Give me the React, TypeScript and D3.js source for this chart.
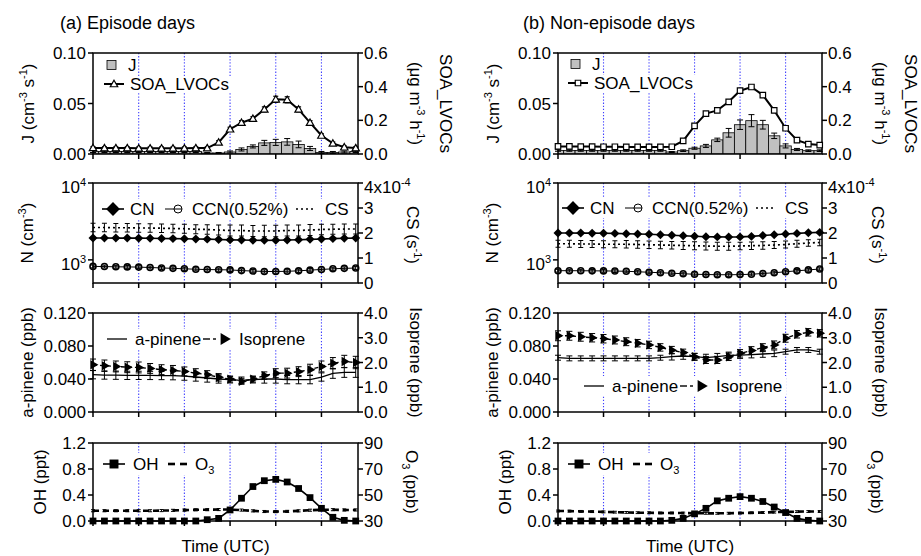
import React from "react";
import * as d3 from "d3";

const hours = [0, 1, 2, 3, 4, 5, 6, 7, 8, 9, 10, 11, 12, 13, 14, 15, 16, 17, 18, 19, 20, 21, 22, 23];
const gridHours = [4, 8, 12, 16, 20];
const axisHours = [0, 4, 8, 12, 16, 20];

// (a) episode days
const jEp = [0.0025, 0.0025, 0.0025, 0.0025, 0.0025, 0.0025, 0.0025, 0.0025, 0.0025, 0.0025, 0.001, 0.001, 0.002, 0.0045, 0.0075, 0.011, 0.0115, 0.012, 0.0095, 0.0055, 0.0015, 0.0015, 0.002, 0.0025];
const jEpErr = [0.001, 0.001, 0.001, 0.001, 0.001, 0.001, 0.001, 0.001, 0.001, 0.001, 0.0005, 0.0005, 0.001, 0.0015, 0.0015, 0.0025, 0.003, 0.0033, 0.0033, 0.002, 0.001, 0.001, 0.001, 0.001];
const soaEp = [0.036, 0.035, 0.035, 0.035, 0.034, 0.034, 0.034, 0.034, 0.034, 0.035, 0.035, 0.069, 0.147, 0.186, 0.21, 0.265, 0.325, 0.322, 0.265, 0.186, 0.11, 0.063, 0.04, 0.035];
const soaEpErr = [0.008, 0.008, 0.008, 0.008, 0.008, 0.008, 0.008, 0.008, 0.008, 0.008, 0.008, 0.01, 0.012, 0.012, 0.012, 0.015, 0.018, 0.018, 0.015, 0.012, 0.01, 0.008, 0.008, 0.008];
const cnEp = [1925, 1925, 1920, 1920, 1915, 1910, 1900, 1890, 1880, 1870, 1860, 1840, 1820, 1810, 1800, 1795, 1800, 1810, 1830, 1850, 1870, 1890, 1910, 1920];
const cnEpErr = [60, 60, 60, 60, 60, 60, 60, 60, 60, 60, 60, 60, 60, 60, 60, 60, 60, 60, 60, 60, 60, 60, 60, 60];
const ccnEp = [822, 818, 812, 810, 805, 795, 785, 775, 765, 755, 748, 744, 740, 725, 715, 707, 705, 710, 720, 735, 750, 765, 775, 783];
const ccnEpErr = [35, 35, 35, 35, 35, 35, 35, 35, 35, 35, 35, 35, 35, 35, 35, 35, 35, 35, 35, 35, 35, 35, 35, 35];
const csEp = [2.22, 2.22, 2.21, 2.21, 2.2, 2.2, 2.19, 2.18, 2.17, 2.15, 2.14, 2.12, 2.1, 2.1, 2.08, 2.08, 2.08, 2.1, 2.1, 2.12, 2.14, 2.15, 2.16, 2.16];
const csEpErr = [0.17, 0.17, 0.17, 0.17, 0.17, 0.17, 0.17, 0.17, 0.18, 0.18, 0.19, 0.2, 0.22, 0.22, 0.22, 0.23, 0.23, 0.22, 0.22, 0.22, 0.21, 0.2, 0.2, 0.2];
const apinEp = [0.0452, 0.0448, 0.0446, 0.0444, 0.0444, 0.0443, 0.0442, 0.044, 0.0435, 0.0424, 0.0412, 0.04, 0.0392, 0.0384, 0.0392, 0.04, 0.04, 0.0392, 0.0392, 0.0392, 0.0424, 0.0468, 0.048, 0.048];
const apinEpErr = [0.005, 0.005, 0.005, 0.005, 0.005, 0.005, 0.005, 0.005, 0.005, 0.005, 0.005, 0.005, 0.004, 0.004, 0.004, 0.005, 0.005, 0.005, 0.005, 0.005, 0.005, 0.006, 0.006, 0.006];
const isoEp = [1.91, 1.87, 1.84, 1.81, 1.8, 1.76, 1.71, 1.68, 1.64, 1.57, 1.51, 1.4, 1.33, 1.24, 1.33, 1.47, 1.57, 1.57, 1.63, 1.71, 1.84, 1.97, 2.04, 2.0];
const isoEpErr = [0.23, 0.23, 0.22, 0.22, 0.22, 0.2, 0.2, 0.2, 0.18, 0.18, 0.16, 0.15, 0.12, 0.12, 0.12, 0.15, 0.18, 0.2, 0.2, 0.22, 0.22, 0.23, 0.25, 0.25];
const ohEp = [0, 0, 0, 0, 0, 0, 0, 0, 0, 0, 0.02, 0.04, 0.17, 0.35, 0.53, 0.62, 0.64, 0.6, 0.5, 0.36, 0.195, 0.057, 0.01, 0];
const ohEpErr = [0.01, 0.01, 0.01, 0.01, 0.01, 0.01, 0.01, 0.01, 0.01, 0.01, 0.01, 0.01, 0.02, 0.02, 0.02, 0.02, 0.02, 0.02, 0.02, 0.02, 0.02, 0.01, 0.01, 0.01];
const o3Ep = [37.9, 37.9, 37.9, 37.9, 37.9, 37.9, 38, 38.2, 38.4, 38.6, 38.7, 38.8, 38.8, 38.4, 37.8, 37.3, 37.2, 37.4, 37.8, 38.3, 38.6, 38.7, 38.5, 38.5];
const o3EpErr = [0.8, 0.8, 0.8, 0.8, 0.8, 0.8, 0.8, 0.8, 0.8, 0.8, 0.8, 0.8, 0.8, 0.8, 0.8, 0.8, 0.8, 0.8, 0.8, 0.8, 0.8, 0.8, 0.8, 0.8];

// (b) non-episode days
const jNon = [0.0035, 0.0035, 0.0035, 0.0035, 0.0035, 0.0035, 0.0035, 0.0035, 0.0035, 0.0035, 0.002, 0.0033, 0.0057, 0.008, 0.014, 0.021, 0.029, 0.033, 0.029, 0.018, 0.008, 0.0045, 0.0033, 0.0033];
const jNonErr = [0.0008, 0.0008, 0.0008, 0.0008, 0.0008, 0.0008, 0.0008, 0.0008, 0.0008, 0.0008, 0.0005, 0.0008, 0.001, 0.0015, 0.0017, 0.0043, 0.0047, 0.006, 0.0043, 0.0027, 0.002, 0.001, 0.0008, 0.0008];
const soaNon = [0.045, 0.045, 0.044, 0.044, 0.043, 0.043, 0.042, 0.042, 0.042, 0.042, 0.043, 0.078, 0.167, 0.24, 0.259, 0.31, 0.376, 0.398, 0.35, 0.259, 0.153, 0.082, 0.059, 0.053];
const soaNonErr = [0.006, 0.006, 0.006, 0.006, 0.006, 0.006, 0.006, 0.006, 0.006, 0.006, 0.006, 0.007, 0.008, 0.008, 0.008, 0.009, 0.01, 0.01, 0.009, 0.008, 0.008, 0.007, 0.006, 0.006];
const cnNon = [2236, 2236, 2230, 2225, 2220, 2210, 2190, 2170, 2150, 2120, 2090, 2060, 2030, 2000, 1990, 1983, 1990, 2020, 2070, 2120, 2170, 2210, 2250, 2277];
const cnNonErr = [60, 60, 60, 60, 60, 60, 60, 60, 60, 60, 60, 60, 60, 60, 60, 60, 60, 60, 60, 60, 60, 60, 60, 60];
const ccnNon = [723, 723, 722, 720, 718, 715, 710, 700, 690, 680, 670, 660, 650, 645, 641, 640, 643, 650, 665, 680, 700, 720, 740, 760];
const ccnNonErr = [30, 30, 30, 30, 30, 30, 30, 30, 30, 30, 30, 30, 30, 30, 30, 30, 30, 30, 30, 30, 30, 30, 30, 30];
const csNon = [1.57, 1.57, 1.56, 1.56, 1.55, 1.55, 1.55, 1.54, 1.53, 1.52, 1.51, 1.5, 1.49, 1.48, 1.47, 1.47, 1.48, 1.49, 1.5, 1.52, 1.54, 1.57, 1.6, 1.62];
const csNonErr = [0.14, 0.14, 0.14, 0.14, 0.14, 0.14, 0.15, 0.15, 0.15, 0.15, 0.15, 0.16, 0.16, 0.16, 0.16, 0.16, 0.15, 0.15, 0.15, 0.14, 0.14, 0.14, 0.13, 0.13];
const apinNon = [0.0658, 0.065, 0.065, 0.065, 0.065, 0.065, 0.065, 0.065, 0.065, 0.0658, 0.067, 0.0679, 0.067, 0.066, 0.067, 0.0686, 0.069, 0.0696, 0.0703, 0.0711, 0.0731, 0.0752, 0.0752, 0.0731];
const apinNonErr = [0.003, 0.003, 0.003, 0.003, 0.003, 0.003, 0.003, 0.003, 0.003, 0.003, 0.004, 0.004, 0.004, 0.004, 0.004, 0.004, 0.004, 0.004, 0.004, 0.004, 0.003, 0.003, 0.003, 0.003];
const isoNon = [3.08, 3.08, 3.04, 3.0, 2.96, 2.91, 2.84, 2.78, 2.71, 2.61, 2.5, 2.4, 2.23, 2.1, 2.1, 2.23, 2.37, 2.48, 2.6, 2.71, 2.98, 3.14, 3.22, 3.18];
const isoNonErr = [0.2, 0.18, 0.18, 0.17, 0.17, 0.16, 0.16, 0.15, 0.15, 0.15, 0.15, 0.14, 0.14, 0.14, 0.14, 0.15, 0.15, 0.16, 0.16, 0.16, 0.16, 0.15, 0.15, 0.15];
const ohNon = [0, 0, 0, 0, 0, 0, 0, 0, 0, 0, 0.01, 0.04, 0.11, 0.195, 0.31, 0.35, 0.375, 0.35, 0.3, 0.215, 0.13, 0.04, 0.01, 0];
const ohNonErr = [0.01, 0.01, 0.01, 0.01, 0.01, 0.01, 0.01, 0.01, 0.01, 0.01, 0.01, 0.01, 0.015, 0.015, 0.015, 0.015, 0.015, 0.015, 0.015, 0.015, 0.015, 0.01, 0.01, 0.01];
const o3Non = [37.7, 37.6, 37.4, 37.2, 37, 36.8, 36.6, 36.4, 36.3, 36.2, 36.2, 36.1, 36, 35.9, 35.9, 36, 36.1, 36.3, 36.5, 36.8, 37, 37.2, 37.3, 37.3];
const o3NonErr = [0.7, 0.7, 0.7, 0.7, 0.7, 0.7, 0.7, 0.7, 0.7, 0.7, 0.7, 0.7, 0.7, 0.7, 0.7, 0.7, 0.7, 0.7, 0.7, 0.7, 0.7, 0.7, 0.7, 0.7];

// axis ticks
const jTicks = [0, 0.05, 0.1];
const soaTicks = [0, 0.2, 0.4, 0.6];
const nTicks = [1000, 10000];
const csTicks = [0, 1, 2, 3, 4];
const apinTicks = [0, 0.04, 0.08, 0.12];
const isoTicks = [0, 1, 2, 3, 4];
const ohTicks = [0, 0.4, 0.8, 1.2];
const o3Ticks = [30, 50, 70, 90];

const FONT = "'Liberation Sans', Arial, Helvetica, sans-serif";
const GRID = "#3f3fff";
const rows = [
  { top: 53, bottom: 154 },
  { top: 183, bottom: 283 },
  { top: 313, bottom: 412 },
  { top: 443, bottom: 521 },
];

type Tick = { v: number; label: React.ReactNode; dy?: number };

const sup = (t: string) => <tspan dy={-7} fontSize={11}>{t}</tspan>;
const base = (t: string) => <tspan dy={7}>{t}</tspan>;

function ErrBars({ xs, vals, errs, y, cap = 2.5, w = 1 }: any) {
  return (
    <g stroke="#000" strokeWidth={w}>
      {vals.map((v: number, i: number) => {
        const y0 = y(v - errs[i]);
        const y1 = y(v + errs[i]);
        const x = xs[i];
        return (
          <g key={i}>
            <line x1={x} x2={x} y1={y0} y2={y1} />
            <line x1={x - cap} x2={x + cap} y1={y0} y2={y0} />
            <line x1={x - cap} x2={x + cap} y1={y1} y2={y1} />
          </g>
        );
      })}
    </g>
  );
}

function Grid({ x, top, bottom }: any) {
  return (
    <g>
      {gridHours.map((h) => (
        <line key={h} x1={x(h)} x2={x(h)} y1={top} y2={bottom} stroke={GRID} strokeWidth={1.1} strokeDasharray="1.3 1.8" />
      ))}
    </g>
  );
}

function Axes({ x, left, right, top, bottom, yl, yr, lt, rt }: any) {
  return (
    <g>
      <rect x={left} y={top} width={right - left} height={bottom - top} fill="none" stroke="#000" strokeWidth={1.5} />
      {axisHours.map((h) => (
        <line key={"b" + h} x1={x(h)} x2={x(h)} y1={bottom} y2={bottom + 5} stroke="#000" strokeWidth={1.5} />
      ))}
      {lt.map((t: Tick, i: number) => (
        <g key={"l" + i}>
          <line x1={left - 5} x2={left} y1={yl(t.v)} y2={yl(t.v)} stroke="#000" strokeWidth={1.5} />
          <text x={left - 7} y={yl(t.v) + 6 + (t.dy || 0)} textAnchor="end" fontSize={17}>{t.label}</text>
        </g>
      ))}
      {rt.map((t: Tick, i: number) => (
        <g key={"r" + i}>
          <line x1={right} x2={right + 5} y1={yr(t.v)} y2={yr(t.v)} stroke="#000" strokeWidth={1.5} />
          <text x={right + 6} y={yr(t.v) + 6 + (t.dy || 0)} textAnchor="start" fontSize={17}>{t.label}</text>
        </g>
      ))}
    </g>
  );
}

const symPath = (type: any, size: number) => d3.symbol().type(type).size(size)() || "";

function Column(p: any) {
  const { left, right, off, title, titleX, squareSoa, l1, l2, l3, l4 } = p;
  const x = d3.scaleLinear().domain([0, 23.2]).range([left, right]);
  const xs = hours.map((h) => x(h));
  const bw = x(1) - x(0);
  const [r1, r2, r3, r4] = rows;
  const yJ = d3.scaleLinear().domain([0, 0.1]).range([r1.bottom, r1.top]);
  const ySoa = d3.scaleLinear().domain([0, 0.6]).range([r1.bottom, r1.top]);
  const yN = d3.scaleLog().domain([500, 10000]).range([r2.bottom, r2.top]);
  const yCs = d3.scaleLinear().domain([0, 4]).range([r2.bottom, r2.top]);
  const yAp = d3.scaleLinear().domain([0, 0.12]).range([r3.bottom, r3.top]);
  const yIso = d3.scaleLinear().domain([0, 4]).range([r3.bottom, r3.top]);
  const yOh = d3.scaleLinear().domain([0, 1.2]).range([r4.bottom, r4.top]);
  const yO3 = d3.scaleLinear().domain([30, 90]).range([r4.bottom, r4.top]);
  const path = (vals: number[], y: any) => d3.line<number>().x((_, i) => xs[i]).y((v) => y(v))(vals) || "";

  const f2 = d3.format(".2f");
  const f1 = d3.format(".1f");
  const f3 = d3.format(".3f");
  const clipId = "clip" + off;

  const triUp = symPath(d3.symbolTriangle, 24);
  const sqSmall = symPath(d3.symbolSquare, 30);
  const diamond = symPath(d3.symbolSquare, 40);
  const diamondBig = symPath(d3.symbolSquare, 95);
  const triR = symPath(d3.symbolTriangle, 38);
  const triRBig = symPath(d3.symbolTriangle, 60);
  const ohSq = symPath(d3.symbolSquare, 46);
  const ohSqBig = symPath(d3.symbolSquare, 80);

  const soaMark = (cx: number, cy: number, k: any) =>
    squareSoa ? (
      <path key={k} d={sqSmall} transform={`translate(${cx},${cy})`} fill="#fff" stroke="#000" strokeWidth={1.2} />
    ) : (
      <path key={k} d={triUp} transform={`translate(${cx},${cy + 0.6})`} fill="#fff" stroke="#000" strokeWidth={1.2} />
    );

  const cx = (left + right) / 2;

  return (
    <g>
      <defs>
        <clipPath id={clipId}>
          <rect x={left} y={r1.top} width={right - left} height={r1.bottom - r1.top} />
        </clipPath>
      </defs>
      <text x={titleX} y={29} fontSize={18}>{title}</text>

      {/* panel 1: J and SOA */}
      <Grid x={x} top={r1.top} bottom={r1.bottom} />
      <rect x={l1[0] - 3} y={l1[1] + 11} width={132} height={17} fill="#fff" />
      <g clipPath={`url(#${clipId})`}>
        {p.j.map((v: number, i: number) => (
          <rect key={i} x={xs[i] - bw / 2} y={yJ(v)} width={bw} height={yJ(0) - yJ(v)} fill="#c0c0c0" stroke="#000" strokeWidth={0.8} />
        ))}
      </g>
      <ErrBars xs={xs} vals={p.j} errs={p.jErr} y={yJ} cap={3} />
      <Axes x={x} left={left} right={right} top={r1.top} bottom={r1.bottom} yl={yJ} yr={ySoa}
        lt={jTicks.map((v) => ({ v, label: f2(v) }))}
        rt={soaTicks.map((v) => ({ v, label: f1(v) }))} />
      <path d={path(p.soa, ySoa)} fill="none" stroke="#000" strokeWidth={2} />
      <ErrBars xs={xs} vals={p.soa} errs={p.soaErr} y={ySoa} w={1.2} />
      {p.soa.map((v: number, i: number) => soaMark(xs[i], ySoa(v), i))}
      {/* legend 1 */}
      <rect x={l1[0] + 3} y={l1[1] - 4.5} width={9} height={9} fill="#c0c0c0" stroke="#000" strokeWidth={0.8} />
      <text x={l1[0] + 24} y={l1[1] + 6}>J</text>
      <line x1={l1[0]} x2={l1[0] + 20} y1={l1[1] + 19} y2={l1[1] + 19} stroke="#000" strokeWidth={2} />
      {soaMark(l1[0] + 10, l1[1] + 19, "lg")}
      <text x={l1[0] + 26} y={l1[1] + 25}>SOA_LVOCs</text>
      <text transform={`translate(${34 + off},${(r1.top + r1.bottom) / 2}) rotate(-90)`} textAnchor="middle">
        J (cm{sup("-3")}{base(" s")}{sup("-1")}{base(")")}
      </text>
      <text transform={`translate(${440 + off},${(r1.top + r1.bottom) / 2}) rotate(90)`} textAnchor="middle">SOA_LVOCs</text>
      <text transform={`translate(${410 + off},${(r1.top + r1.bottom) / 2}) rotate(90)`} textAnchor="middle">
        (μg m{sup("-3")}{base(" h")}{sup("-1")}{base(")")}
      </text>

      {/* panel 2: CN, CCN, CS */}
      <Grid x={x} top={r2.top} bottom={r2.bottom} />
      <rect x={l2[0] - 3} y={l2[1] - 10} width={252} height={20} fill="#fff" />
      <Axes x={x} left={left} right={right} top={r2.top} bottom={r2.bottom} yl={yN} yr={yCs}
        lt={nTicks.map((v) => ({ v, label: <>10{sup(v === 1000 ? "3" : "4")}</>, dy: 4 }))}
        rt={csTicks.map((v) => ({ v, label: v === 4 ? <>4x10{sup("-4")}</> : String(v), dy: v === 4 ? 4 : 0 }))} />
      <path d={path(p.cs, yCs)} fill="none" stroke="#000" strokeWidth={1.7} strokeDasharray="2 3" />
      <ErrBars xs={xs} vals={p.cs} errs={p.csErr} y={yCs} />
      <path d={path(p.cn, yN)} fill="none" stroke="#000" strokeWidth={1.6} />
      <ErrBars xs={xs} vals={p.cn} errs={p.cnErr} y={yN} />
      {p.cn.map((v: number, i: number) => (
        <path key={i} d={diamond} transform={`translate(${xs[i]},${yN(v)}) rotate(45)`} fill="#000" />
      ))}
      <path d={path(p.ccn, yN)} fill="none" stroke="#000" strokeWidth={1} />
      <ErrBars xs={xs} vals={p.ccn} errs={p.ccnErr} y={yN} cap={2} />
      {p.ccn.map((v: number, i: number) => (
        <circle key={i} cx={xs[i]} cy={yN(v)} r={3} fill="none" stroke="#000" strokeWidth={1.6} />
      ))}
      {/* legend 2 */}
      <line x1={l2[0]} x2={l2[0] + 22} y1={l2[1]} y2={l2[1]} stroke="#000" strokeWidth={1.6} />
      <path d={diamondBig} transform={`translate(${l2[0] + 11},${l2[1]}) rotate(45)`} fill="#000" />
      <text x={l2[0] + 28} y={l2[1] + 6}>CN</text>
      <line x1={l2[0] + 63} x2={l2[0] + 80} y1={l2[1]} y2={l2[1]} stroke="#000" strokeWidth={1} />
      <circle cx={l2[0] + 76} cy={l2[1]} r={4} fill="none" stroke="#000" strokeWidth={1} />
      <text x={l2[0] + 90} y={l2[1] + 6}>CCN(0.52%)</text>
      <line x1={l2[0] + 194} x2={l2[0] + 212} y1={l2[1]} y2={l2[1]} stroke="#000" strokeWidth={1.7} strokeDasharray="2 3" />
      <text x={l2[0] + 223} y={l2[1] + 6}>CS</text>
      <text transform={`translate(${33 + off},${(r2.top + r2.bottom) / 2}) rotate(-90)`} textAnchor="middle">
        N (cm{sup("-3")}{base(")")}
      </text>
      <text transform={`translate(${407 + off},${(r2.top + r2.bottom) / 2 + 2}) rotate(90)`} textAnchor="middle">
        CS (s{sup("-1")}{base(")")}
      </text>

      {/* panel 3: a-pinene, isoprene */}
      <Grid x={x} top={r3.top} bottom={r3.bottom} />
      <rect x={l3[0] - 3} y={l3[1] - 10} width={205} height={20} fill="#fff" />
      <Axes x={x} left={left} right={right} top={r3.top} bottom={r3.bottom} yl={yAp} yr={yIso}
        lt={apinTicks.map((v) => ({ v, label: f3(v) }))}
        rt={isoTicks.map((v) => ({ v, label: f1(v) }))} />
      <path d={path(p.apin, yAp)} fill="none" stroke="#000" strokeWidth={1.3} />
      <ErrBars xs={xs} vals={p.apin} errs={p.apinErr} y={yAp} cap={3} />
      <path d={path(p.iso, yIso)} fill="none" stroke="#000" strokeWidth={1.4} strokeDasharray="4 3" />
      <ErrBars xs={xs} vals={p.iso} errs={p.isoErr} y={yIso} cap={3} />
      {p.iso.map((v: number, i: number) => (
        <path key={i} d={triR} transform={`translate(${xs[i]},${yIso(v)}) rotate(90)`} fill="#000" />
      ))}
      {/* legend 3 */}
      <line x1={l3[0]} x2={l3[0] + 20} y1={l3[1]} y2={l3[1]} stroke="#000" strokeWidth={1.3} />
      <text x={l3[0] + 28} y={l3[1] + 6}>a-pinene</text>
      <line x1={l3[0] + 96} x2={l3[0] + 103} y1={l3[1]} y2={l3[1]} stroke="#000" strokeWidth={1.4} />
      <line x1={l3[0] + 106} x2={l3[0] + 109} y1={l3[1]} y2={l3[1]} stroke="#000" strokeWidth={1.4} />
      <path d={triRBig} transform={`translate(${l3[0] + 117},${l3[1]}) rotate(90)`} fill="#000" />
      <text x={l3[0] + 132} y={l3[1] + 6}>Isoprene</text>
      <text transform={`translate(${33 + off},${(r3.top + r3.bottom) / 2}) rotate(-90)`} textAnchor="middle">a-pinene (ppb)</text>
      <text transform={`translate(${410 + off},${(r3.top + r3.bottom) / 2}) rotate(90)`} textAnchor="middle">Isoprene (ppb)</text>

      {/* panel 4: OH, O3 */}
      <Grid x={x} top={r4.top} bottom={r4.bottom} />
      <rect x={l4[0] - 3} y={l4[1] - 11} width={120} height={22} fill="#fff" />
      <Axes x={x} left={left} right={right} top={r4.top} bottom={r4.bottom} yl={yOh} yr={yO3}
        lt={ohTicks.map((v) => ({ v, label: f1(v) }))}
        rt={o3Ticks.map((v) => ({ v, label: String(v) }))} />
      <path d={path(p.o3, yO3)} fill="none" stroke="#000" strokeWidth={2.6} strokeDasharray="6 4" />
      <ErrBars xs={xs} vals={p.o3} errs={p.o3Err} y={yO3} cap={2} />
      <path d={path(p.oh, yOh)} fill="none" stroke="#000" strokeWidth={1.6} />
      <ErrBars xs={xs} vals={p.oh} errs={p.ohErr} y={yOh} />
      {p.oh.map((v: number, i: number) => (
        <path key={i} d={ohSq} transform={`translate(${xs[i]},${yOh(v)})`} fill="#000" />
      ))}
      {/* legend 4 */}
      <line x1={l4[0]} x2={l4[0] + 22} y1={l4[1]} y2={l4[1]} stroke="#000" strokeWidth={1.6} />
      <path d={ohSqBig} transform={`translate(${l4[0] + 11},${l4[1]})`} fill="#000" />
      <text x={l4[0] + 30} y={l4[1] + 6}>OH</text>
      <line x1={l4[0] + 65} x2={l4[0] + 72} y1={l4[1]} y2={l4[1]} stroke="#000" strokeWidth={2.6} />
      <line x1={l4[0] + 77} x2={l4[0] + 84} y1={l4[1]} y2={l4[1]} stroke="#000" strokeWidth={2.6} />
      <text x={l4[0] + 92} y={l4[1] + 6}>O<tspan dy={4} fontSize={11}>3</tspan></text>
      <text transform={`translate(${46 + off},${(r4.top + r4.bottom) / 2}) rotate(-90)`} textAnchor="middle">OH (ppt)</text>
      <text transform={`translate(${406 + off},${(r4.top + r4.bottom) / 2}) rotate(90)`} textAnchor="middle">
        O<tspan dy={4} fontSize={11}>3</tspan><tspan dy={-4}> (ppb)</tspan>
      </text>

      <text x={cx} y={552} textAnchor="middle">Time (UTC)</text>
    </g>
  );
}

export default function App() {
  return (
    <svg width={921} height={556} style={{ position: "absolute", left: 0, top: 0 }} fontFamily={FONT} fontSize={17}>
      <rect width={921} height={556} fill="#fff" />
      <Column
        left={93} right={358} off={0} title="(a) Episode days" titleX={60} squareSoa={false}
        l1={[104, 65]} l2={[102, 209]} l3={[107, 339]} l4={[103, 464]}
        j={jEp} jErr={jEpErr} soa={soaEp} soaErr={soaEpErr}
        cn={cnEp} cnErr={cnEpErr} ccn={ccnEp} ccnErr={ccnEpErr} cs={csEp} csErr={csEpErr}
        apin={apinEp} apinErr={apinEpErr} iso={isoEp} isoErr={isoEpErr}
        oh={ohEp} ohErr={ohEpErr} o3={o3Ep} o3Err={o3EpErr}
      />
      <Column
        left={558} right={822} off={465} title="(b) Non-episode days" titleX={523} squareSoa={true}
        l1={[568, 64]} l2={[562, 208]} l3={[584, 386]} l4={[568, 464]}
        j={jNon} jErr={jNonErr} soa={soaNon} soaErr={soaNonErr}
        cn={cnNon} cnErr={cnNonErr} ccn={ccnNon} ccnErr={ccnNonErr} cs={csNon} csErr={csNonErr}
        apin={apinNon} apinErr={apinNonErr} iso={isoNon} isoErr={isoNonErr}
        oh={ohNon} ohErr={ohNonErr} o3={o3Non} o3Err={o3NonErr}
      />
    </svg>
  );
}
